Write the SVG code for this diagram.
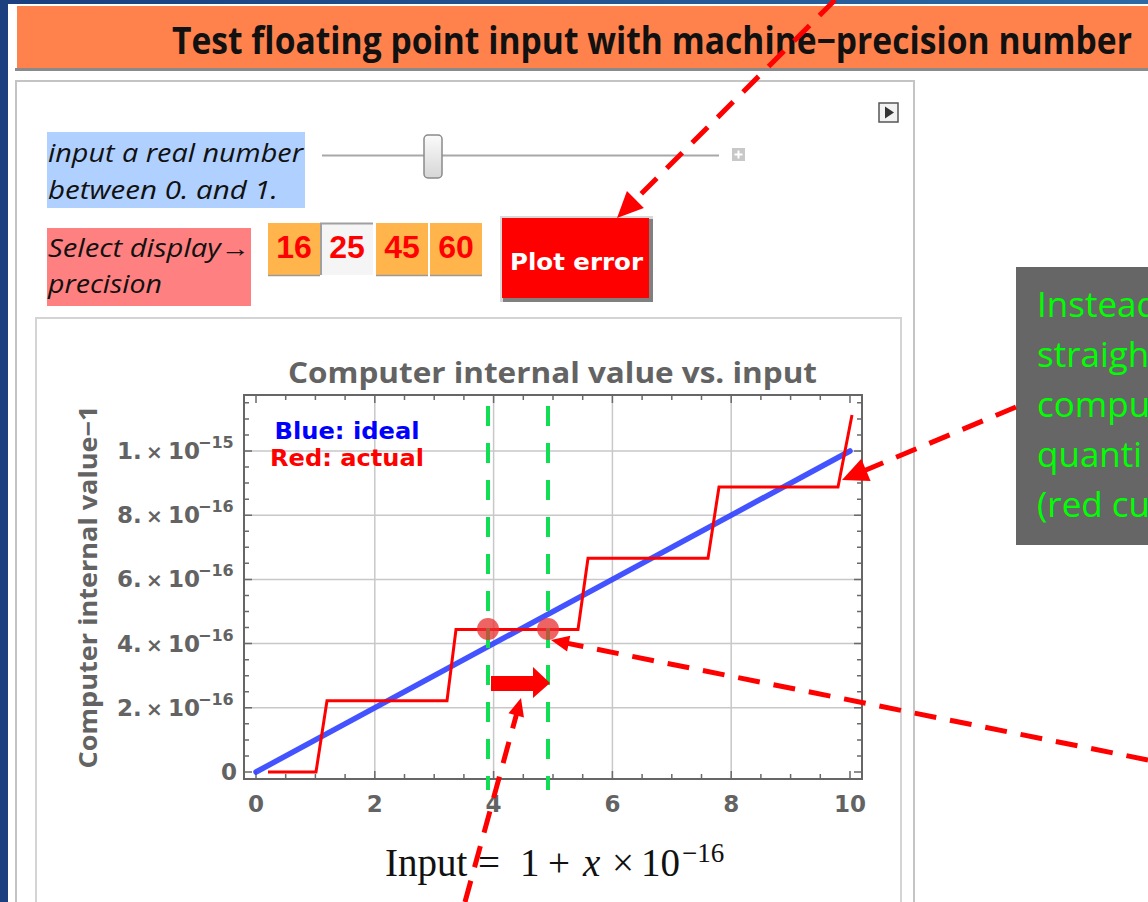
<svg xmlns="http://www.w3.org/2000/svg" width="1148" height="902" viewBox="0 0 1148 902">
<defs>
<linearGradient id="topbar" x1="0" x2="1" y1="0" y2="0"><stop offset="0" stop-color="#1b3f7f"/><stop offset="1" stop-color="#2d6aa3"/></linearGradient>
<linearGradient id="thumb" x1="0" x2="0" y1="0" y2="1"><stop offset="0" stop-color="#fbfbfb"/><stop offset="1" stop-color="#d6d6d6"/></linearGradient>
<marker id="ahBig" markerUnits="userSpaceOnUse" markerWidth="30" markerHeight="28" viewBox="-18 -14 30 28" refX="0" refY="0" orient="auto"><path d="M10,0 L-16,-12 L-16,12 Z" fill="#ff0000"/></marker>
<marker id="ahSmall" markerUnits="userSpaceOnUse" markerWidth="22" markerHeight="20" viewBox="-14 -10 22 20" refX="0" refY="0" orient="auto"><path d="M6,0 L-12,-8 L-12,8 Z" fill="#ff0000"/></marker>
<style>
.conn{fill:none;stroke:#ff0000;stroke-width:5;stroke-dasharray:22 14}
.green{fill:none;stroke:#11dd55;stroke-width:4;stroke-dasharray:20 17}
.grid{fill:none;stroke:#c8c8c8;stroke-width:1.5}
.tick{fill:none;stroke:#6a6a6a;stroke-width:1.5}
.frame{fill:none;stroke:#666;stroke-width:2}
.ital{font-family:"Open Sans","Liberation Sans",sans-serif;font-style:italic;font-size:25px;fill:#111}
.num{font-family:"Liberation Sans",Arial,sans-serif;font-weight:bold;font-size:32px;fill:#ff0000;text-anchor:middle}
.tl{font-family:"DejaVu Sans",Verdana,sans-serif;font-weight:bold;fill:#636363}
.btn{fill:#ffb54c}
.note{font-family:"Open Sans","Liberation Sans",sans-serif;font-size:35px;fill:#00ff00}
.math{font-family:"Liberation Serif","Times New Roman",serif;fill:#111}
</style>
</defs>

<rect x="0" y="0" width="1148" height="902" fill="#ffffff"/>
<rect x="0" y="0" width="1148" height="4" fill="url(#topbar)"/>
<rect x="0" y="0" width="8" height="902" fill="#1b3f7f"/>

<g id="header">
<rect x="17" y="6" width="1131" height="62" fill="#ff824c"/>
<rect x="15" y="68" width="1133" height="3" fill="#8a8a8a"/>
<text x="172" y="54" font-family="Open Sans, Liberation Sans, sans-serif" font-weight="bold" font-size="37" fill="#111" textLength="960" lengthAdjust="spacingAndGlyphs">Test floating point input with machine−precision number</text>
</g>

<g id="panel">
<rect x="16" y="81" width="898" height="830" fill="#ffffff" stroke="#c4c4c4" stroke-width="2"/>
<rect x="36" y="318" width="865" height="600" fill="#ffffff" stroke="#d4d4d4" stroke-width="2"/>
</g>

<g id="play-button">
<rect x="879" y="103" width="19" height="19" fill="#f2f2f2" stroke="#555" stroke-width="1.5"/>
<path d="M885,106.5 L894,112.5 L885,118.5 Z" fill="#333"/>
</g>

<g id="input-label">
<rect x="47" y="132" width="258" height="76" fill="#b0d0ff"/>
<text class="ital" x="48" y="162" textLength="255" lengthAdjust="spacingAndGlyphs">input a real number</text>
<text class="ital" x="48" y="199" textLength="230" lengthAdjust="spacingAndGlyphs">between 0. and 1.</text>
</g>

<g id="slider">
<line x1="322" y1="155.5" x2="719" y2="155.5" stroke="#a8a8a8" stroke-width="2"/>
<rect x="424" y="135" width="18" height="43" rx="4" fill="url(#thumb)" stroke="#8a8a8a" stroke-width="1.5"/>
<rect x="732" y="148" width="13" height="13" fill="#c8c8c8"/>
<path d="M738.5,150.5 v8 M734.5,154.5 h8" stroke="#fff" stroke-width="2"/>
</g>

<g id="precision-label">
<rect x="47" y="228" width="204" height="78" fill="#ff8080"/>
<text class="ital" x="48" y="257" textLength="202" lengthAdjust="spacingAndGlyphs">Select display→</text>
<text class="ital" x="48" y="293" textLength="114" lengthAdjust="spacingAndGlyphs">precision</text>
</g>

<g id="precision-buttons">
<rect class="btn" x="268" y="223" width="52" height="52"/>
<line x1="268" y1="275.5" x2="320" y2="275.5" stroke="#9a9a9a" stroke-width="1.5"/>
<rect x="320" y="223" width="53" height="52" fill="#f5f5f5"/>
<path d="M321,275 V223.5 H373" fill="none" stroke="#a0a0a0" stroke-width="2"/>
<rect class="btn" x="376" y="223" width="52" height="52"/>
<line x1="376" y1="275.5" x2="428" y2="275.5" stroke="#9a9a9a" stroke-width="1.5"/>
<rect class="btn" x="430" y="223" width="52" height="52"/>
<line x1="430" y1="275.5" x2="482" y2="275.5" stroke="#9a9a9a" stroke-width="1.5"/>
<text class="num" x="294" y="258">16</text>
<text class="num" x="347" y="258">25</text>
<text class="num" x="402" y="258">45</text>
<text class="num" x="456" y="258">60</text>
</g>

<g id="plot-error">
<rect x="500" y="216" width="153" height="86" fill="#d8d8d8"/>
<rect x="503" y="219" width="150" height="83" fill="#808080"/>
<rect x="502" y="218" width="147" height="80" fill="#ff0000"/>
<text x="576.5" y="270" text-anchor="middle" font-family="DejaVu Sans, Verdana, sans-serif" font-weight="bold" font-size="23" fill="#ffffff" textLength="133" lengthAdjust="spacingAndGlyphs">Plot error</text>
</g>

<g id="plot">
<text x="288" y="383" font-family="Open Sans, Liberation Sans, sans-serif" font-weight="bold" font-size="29" fill="#636363" textLength="529" lengthAdjust="spacingAndGlyphs">Computer internal value vs. input</text>
<path class="grid" d="M374.8,395 V779 M493.6,395 V779 M612.4,395 V779 M731.2,395 V779 M244,707.8 H862 M244,643.6 H862 M244,579.4 H862 M244,515.2 H862 M244,451 H862"/>
<path class="tick" d="M256,779 v-8 M374.8,779 v-8 M493.6,779 v-8 M612.4,779 v-8 M731.2,779 v-8 M850,779 v-8 M285.7,779 v-5 M315.4,779 v-5 M345.1,779 v-5 M404.5,779 v-5 M434.2,779 v-5 M463.9,779 v-5 M523.3,779 v-5 M553,779 v-5 M582.7,779 v-5 M642.1,779 v-5 M671.8,779 v-5 M701.5,779 v-5 M760.9,779 v-5 M790.6,779 v-5 M820.3,779 v-5
M256,395 v8 M374.8,395 v8 M493.6,395 v8 M612.4,395 v8 M731.2,395 v8 M850,395 v8 M285.7,395 v5 M315.4,395 v5 M345.1,395 v5 M404.5,395 v5 M434.2,395 v5 M463.9,395 v5 M523.3,395 v5 M553,395 v5 M582.7,395 v5 M642.1,395 v5 M671.8,395 v5 M701.5,395 v5 M760.9,395 v5 M790.6,395 v5 M820.3,395 v5
M244,772 h8 M244,707.8 h8 M244,643.6 h8 M244,579.4 h8 M244,515.2 h8 M244,451 h8 M244,755.95 h5 M244,739.9 h5 M244,723.85 h5 M244,691.75 h5 M244,675.7 h5 M244,659.65 h5 M244,627.55 h5 M244,611.5 h5 M244,595.45 h5 M244,563.35 h5 M244,547.3 h5 M244,531.25 h5 M244,499.15 h5 M244,483.1 h5 M244,467.05 h5 M244,434.95 h5 M244,418.9 h5 M244,402.85 h5
M862,772 h-8 M862,707.8 h-8 M862,643.6 h-8 M862,579.4 h-8 M862,515.2 h-8 M862,451 h-8 M862,755.95 h-5 M862,739.9 h-5 M862,723.85 h-5 M862,691.75 h-5 M862,675.7 h-5 M862,659.65 h-5 M862,627.55 h-5 M862,611.5 h-5 M862,595.45 h-5 M862,563.35 h-5 M862,547.3 h-5 M862,531.25 h-5 M862,499.15 h-5 M862,483.1 h-5 M862,467.05 h-5 M862,434.95 h-5 M862,418.9 h-5 M862,402.85 h-5"/>
<rect class="frame" x="244" y="395" width="618" height="384"/>
<g class="tl" font-size="23">
<text x="117" y="459">1.<tspan x="146" font-size="20">×</tspan><tspan x="168">10</tspan><tspan x="198" dy="-11" font-size="16">−15</tspan></text>
<text x="117" y="523">8.<tspan x="146" font-size="20">×</tspan><tspan x="168">10</tspan><tspan x="198" dy="-11" font-size="16">−16</tspan></text>
<text x="117" y="587">6.<tspan x="146" font-size="20">×</tspan><tspan x="168">10</tspan><tspan x="198" dy="-11" font-size="16">−16</tspan></text>
<text x="117" y="652">4.<tspan x="146" font-size="20">×</tspan><tspan x="168">10</tspan><tspan x="198" dy="-11" font-size="16">−16</tspan></text>
<text x="117" y="716">2.<tspan x="146" font-size="20">×</tspan><tspan x="168">10</tspan><tspan x="198" dy="-11" font-size="16">−16</tspan></text>
<text x="229" y="780" text-anchor="middle">0</text>
<text x="256" y="812" text-anchor="middle">0</text>
<text x="374.8" y="812" text-anchor="middle">2</text>
<text x="493.6" y="812" text-anchor="middle">4</text>
<text x="612.4" y="812" text-anchor="middle">6</text>
<text x="731.2" y="812" text-anchor="middle">8</text>
<text x="850" y="812" text-anchor="middle">10</text>
</g>
<text transform="translate(97,587) rotate(-90)" text-anchor="middle" font-family="Open Sans, Liberation Sans, sans-serif" font-weight="bold" font-size="25" fill="#636363" textLength="363" lengthAdjust="spacingAndGlyphs">Computer internal value−1</text>
<text x="347" y="439" text-anchor="middle" font-family="DejaVu Sans, Verdana, sans-serif" font-weight="bold" font-size="23" fill="#0000ff" textLength="145" lengthAdjust="spacingAndGlyphs">Blue: ideal</text>
<text x="347" y="466" text-anchor="middle" font-family="DejaVu Sans, Verdana, sans-serif" font-weight="bold" font-size="23" fill="#ff0000" textLength="154" lengthAdjust="spacingAndGlyphs">Red: actual</text>
<line x1="256" y1="772" x2="850" y2="451" stroke="#3344ff" stroke-width="5.5" stroke-opacity="0.92" stroke-linecap="round"/>
<polyline points="268,772 316,772 327,700.7 447,700.7 456,629.5 578,629.5 588,558.2 708,558.2 719,487 838,487 852,415" fill="none" stroke="#ff0000" stroke-width="3"/>
<path class="green" d="M488,406 V790 M548,406 V790"/>
<circle cx="488" cy="629" r="11" fill="#e83030" fill-opacity="0.75"/>
<circle cx="548" cy="629" r="11" fill="#e83030" fill-opacity="0.75"/>
<polygon points="491,676 533,676 533,667 550,683 533,698 533,691 491,691" fill="#ff0000"/>
<text class="math" y="876" font-size="39"><tspan x="385">Input</tspan><tspan x="478">=</tspan><tspan x="520">1</tspan><tspan x="548">+</tspan><tspan x="583" font-style="italic">x</tspan><tspan x="612">×</tspan><tspan x="641">10</tspan><tspan x="682" y="862" font-size="27">−16</tspan></text>
</g>

<g id="note">
<rect x="1016" y="267" width="140" height="278" fill="#666666"/>
<text class="note" x="1037" y="317">Instead</text>
<text class="note" x="1037" y="367">straigh</text>
<text class="note" x="1037" y="417">compu</text>
<text class="note" x="1037" y="467">quanti</text>
<text class="note" x="1037" y="517">(red cu</text>
</g>

<g id="connectors">
<path class="conn" d="M835,0 L624.1,210.9" marker-end="url(#ahBig)"/>
<path class="conn" d="M1016,407 L851.2,476.1" marker-end="url(#ahBig)"/>
<path class="conn" d="M1148,760 L556.9,641.2" marker-end="url(#ahSmall)"/>
<path class="conn" d="M465,902 L519.4,703.8" marker-end="url(#ahSmall)"/>
</g>
</svg>
